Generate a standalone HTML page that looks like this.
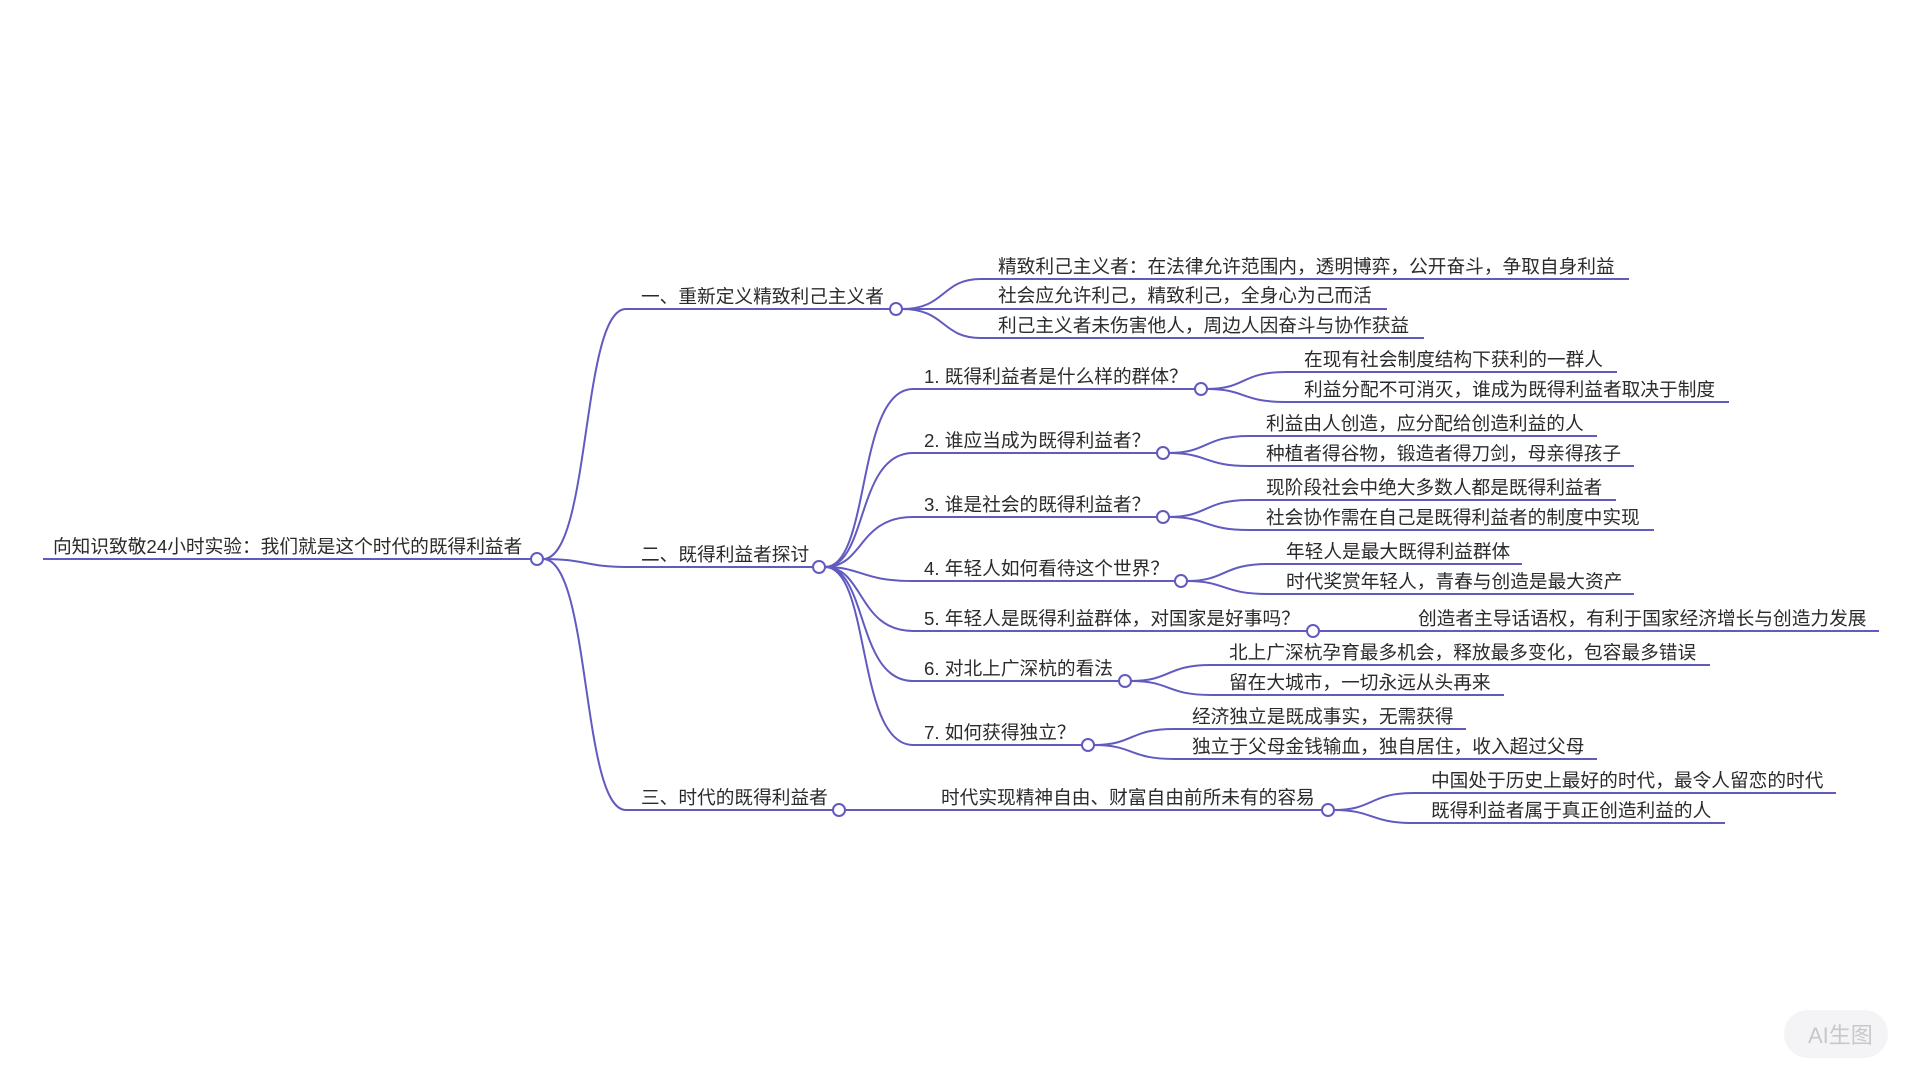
<!DOCTYPE html>
<html><head><meta charset="utf-8"><style>
html,body{margin:0;padding:0;background:#fff;width:1920px;height:1080px;overflow:hidden}
svg{display:block}
text{font-family:"Liberation Sans","Noto Sans CJK SC",sans-serif;font-size:18.7px;fill:#2b2b2b}
.l{fill:none;stroke:#615ac0;stroke-width:2}
.c{fill:#fff;stroke:#615ac0;stroke-width:2}
</style></head><body>
<svg width="1920" height="1080" viewBox="0 0 1920 1080">
<g transform="translate(-4,-2)">
<!-- root -->
<path class="l" d="M47,561 H535"/>
<text x="57" y="555">向知识致敬24小时实验：我们就是这个时代的既得利益者</text>
<path class="l" d="M547,561 C595,561 585,311 630,311 H894"/>
<path class="l" d="M547,561 C590,561 590,569 630,569 H817"/>
<path class="l" d="M547,561 C595,561 585,812 630,812 H837"/>
<circle class="c" cx="541" cy="561" r="6"/>

<!-- 一 -->
<text x="645" y="305">一、重新定义精致利己主义者</text>
<path class="l" d="M906,311 C950,311 945,281 985,281 H1633"/>
<path class="l" d="M906,311 H1391"/>
<path class="l" d="M906,311 C950,311 945,340 985,340 H1428"/>
<circle class="c" cx="900" cy="311" r="6"/>
<text x="1002" y="275">精致利己主义者：在法律允许范围内，透明博弈，公开奋斗，争取自身利益</text>
<text x="1002" y="304">社会应允许利己，精致利己，全身心为己而活</text>
<text x="1002" y="334">利己主义者未伤害他人，周边人因奋斗与协作获益</text>

<!-- 二 -->
<text x="645" y="563">二、既得利益者探讨</text>
<path class="l" d="M829,569 C875,569 860,391 917,391 H1199"/>
<path class="l" d="M829,569 C872,569 860,455 917,455 H1161"/>
<path class="l" d="M829,569 C868,569 862,519 917,519 H1161"/>
<path class="l" d="M829,569 C866,569 865,583 917,583 H1179"/>
<path class="l" d="M829,569 C868,569 862,633 917,633 H1311"/>
<path class="l" d="M829,569 C872,569 860,683 917,683 H1123"/>
<path class="l" d="M829,569 C875,569 860,747 917,747 H1086"/>
<circle class="c" cx="823" cy="569" r="6"/>

<text x="928" y="385">1. 既得利益者是什么样的群体？</text>
<path class="l" d="M1211,391 C1250,391 1245,374 1290,374 H1621"/>
<path class="l" d="M1211,391 C1250,391 1245,404 1290,404 H1733"/>
<circle class="c" cx="1205" cy="391" r="6"/>
<text x="1308" y="368">在现有社会制度结构下获利的一群人</text>
<text x="1308" y="398">利益分配不可消灭，谁成为既得利益者取决于制度</text>

<text x="928" y="449">2. 谁应当成为既得利益者？</text>
<path class="l" d="M1173,455 C1212,455 1208,438 1253,438 H1601"/>
<path class="l" d="M1173,455 C1212,455 1208,468 1253,468 H1638"/>
<circle class="c" cx="1167" cy="455" r="6"/>
<text x="1270" y="432">利益由人创造，应分配给创造利益的人</text>
<text x="1270" y="462">种植者得谷物，锻造者得刀剑，母亲得孩子</text>

<text x="928" y="513">3. 谁是社会的既得利益者？</text>
<path class="l" d="M1173,519 C1212,519 1208,502 1253,502 H1620"/>
<path class="l" d="M1173,519 C1212,519 1208,532 1253,532 H1658"/>
<circle class="c" cx="1167" cy="519" r="6"/>
<text x="1270" y="496">现阶段社会中绝大多数人都是既得利益者</text>
<text x="1270" y="526">社会协作需在自己是既得利益者的制度中实现</text>

<text x="928" y="577">4. 年轻人如何看待这个世界？</text>
<path class="l" d="M1191,583 C1230,583 1226,566 1272,566 H1526"/>
<path class="l" d="M1191,583 C1230,583 1226,596 1272,596 H1638"/>
<circle class="c" cx="1185" cy="583" r="6"/>
<text x="1290" y="560">年轻人是最大既得利益群体</text>
<text x="1290" y="590">时代奖赏年轻人，青春与创造是最大资产</text>

<text x="928" y="627">5. 年轻人是既得利益群体，对国家是好事吗？</text>
<path class="l" d="M1323,633 H1883"/>
<circle class="c" cx="1317" cy="633" r="6"/>
<text x="1422" y="627">创造者主导话语权，有利于国家经济增长与创造力发展</text>

<text x="928" y="677">6. 对北上广深杭的看法</text>
<path class="l" d="M1135,683 C1175,683 1170,667 1215,667 H1714"/>
<path class="l" d="M1135,683 C1175,683 1170,697 1215,697 H1508"/>
<circle class="c" cx="1129" cy="683" r="6"/>
<text x="1233" y="661">北上广深杭孕育最多机会，释放最多变化，包容最多错误</text>
<text x="1233" y="691">留在大城市，一切永远从头再来</text>

<text x="928" y="741">7. 如何获得独立？</text>
<path class="l" d="M1098,747 C1138,747 1133,731 1178,731 H1470"/>
<path class="l" d="M1098,747 C1138,747 1133,761 1178,761 H1601"/>
<circle class="c" cx="1092" cy="747" r="6"/>
<text x="1196" y="725">经济独立是既成事实，无需获得</text>
<text x="1196" y="755">独立于父母金钱输血，独自居住，收入超过父母</text>

<!-- 三 -->
<text x="645" y="806">三、时代的既得利益者</text>
<path class="l" d="M849,812 H1326"/>
<circle class="c" cx="843" cy="812" r="6"/>
<text x="945" y="806">时代实现精神自由、财富自由前所未有的容易</text>
<path class="l" d="M1338,812 C1378,812 1373,795 1418,795 H1840"/>
<path class="l" d="M1338,812 C1378,812 1373,825 1418,825 H1729"/>
<circle class="c" cx="1332" cy="812" r="6"/>
<text x="1435" y="789">中国处于历史上最好的时代，最令人留恋的时代</text>
<text x="1435" y="819">既得利益者属于真正创造利益的人</text>
</g>
<!-- watermark -->
<rect x="1784" y="1010" width="104" height="48" rx="24" fill="#f4f4f7"/>
<text x="1808" y="1043" style="font-size:22px;fill:#c8c8cc">AI生图</text>
</svg>
</body></html>
